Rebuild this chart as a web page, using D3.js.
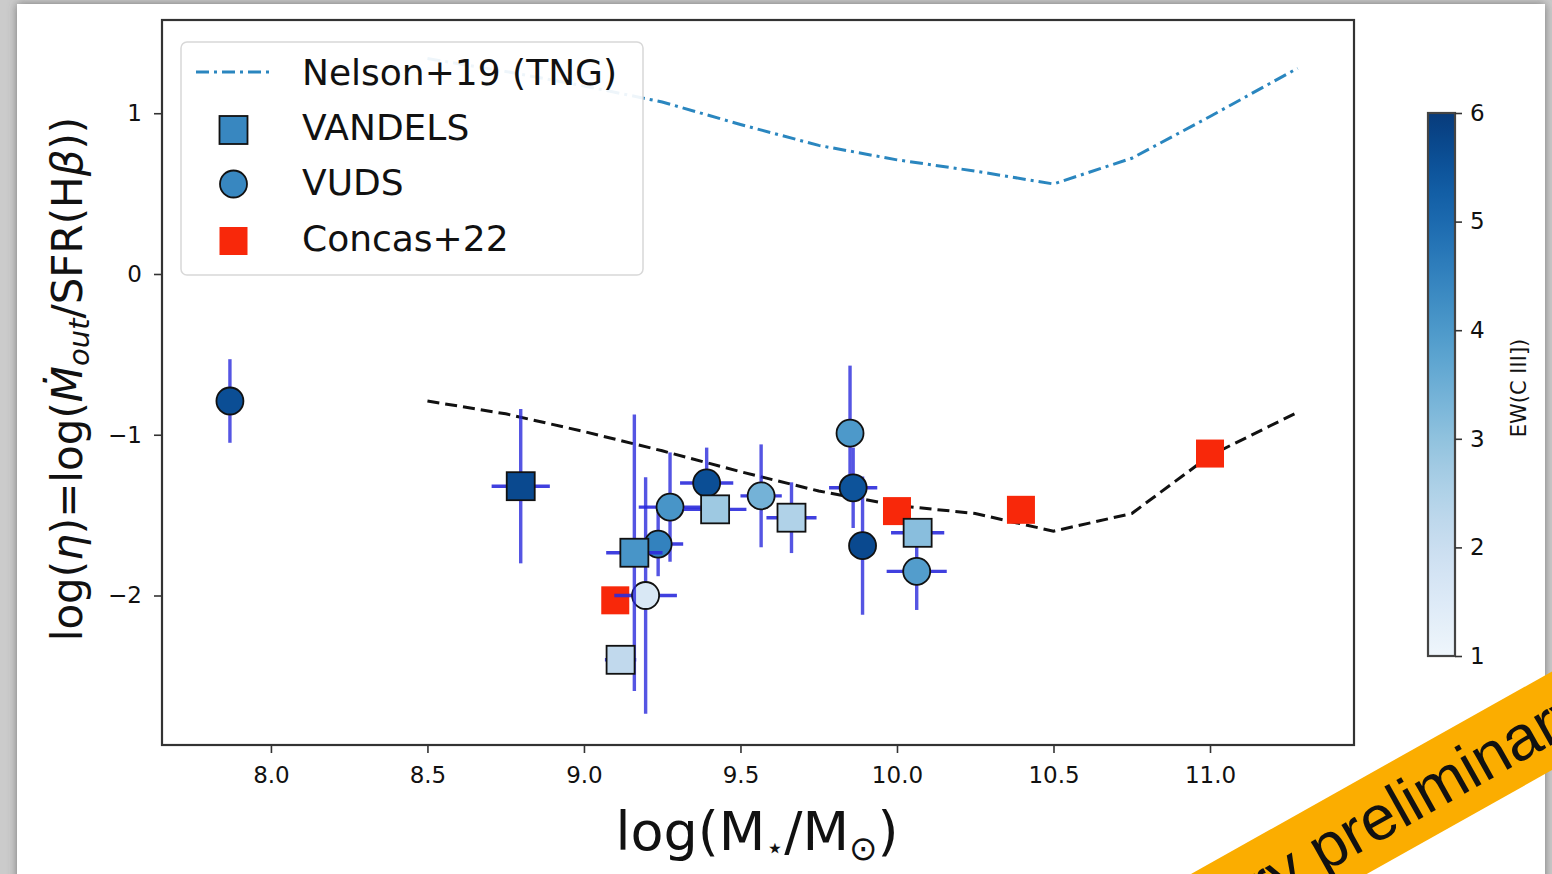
<!DOCTYPE html>
<html>
<head>
<meta charset="utf-8">
<script src="https://cdn.jsdelivr.net/npm/d3@7"></script>
<style>
  html, body { margin: 0; padding: 0; background: #c9c9c9; overflow: hidden; }
  svg { display: block; }
  text { font-family: "DejaVu Sans", sans-serif; fill: #111; }
</style>
</head>
<body>
<svg id="chart" width="1552" height="874"></svg>
<script>
// ---- data ----
// Nelson+19 (TNG) mass-loading relation
const tngMass = [8.5, 8.75, 9.0, 9.25, 9.5, 9.75, 10.0, 10.25, 10.5, 10.75, 11.0, 11.28];
const tngEta  = [1.34, 1.26, 1.17, 1.07, 0.93, 0.80, 0.71, 0.64, 0.56, 0.72, 0.98, 1.28];

// model curve (black dashed)
const modelMass = [8.5, 8.75, 9.0, 9.25, 9.5, 9.75, 10.0, 10.25, 10.5, 10.75, 11.0, 11.28];
const modelEta  = [-0.79, -0.87, -0.98, -1.10, -1.23, -1.35, -1.44, -1.49, -1.60, -1.49, -1.13, -0.86];

// VANDELS (squares)
const vandelsMass    = [8.798, 9.117, 9.161, 9.419, 9.663, 10.066];
const vandelsEta     = [-1.32, -2.40, -1.734, -1.464, -1.516, -1.61];
const vandelsMassErr = [0.093, 0.05, 0.09, 0.10, 0.08, 0.085];
const vandelsEtaErr  = [0.48, 0.02, 0.86, 0.05, 0.22, 0.05];
const vandelsEW      = [5.7, 2.2, 4.1, 2.8, 2.5, 3.1];

// VUDS (circles)
const vudsMass    = [7.869, 9.197, 9.237, 9.275, 9.392, 9.566, 9.850, 9.860, 9.890, 10.063];
const vudsEta     = [-0.79, -2.00, -1.68, -1.45, -1.30, -1.38, -0.99, -1.33, -1.69, -1.85];
const vudsMassErr = [0, 0.10, 0.08, 0.10, 0.085, 0.066, 0, 0.077, 0, 0.096];
const vudsEtaErr  = [0.26, 0.735, 0.20, 0.34, 0.22, 0.32, 0.42, 0.25, 0.43, 0.24];
const vudsEW      = [5.6, 1.6, 4.5, 4.1, 5.6, 3.4, 4.0, 5.5, 5.7, 3.9];

// Concas+22 (red squares)
const concasMass = [9.10, 10.00, 10.396, 11.00];
const concasEta  = [-2.03, -1.475, -1.467, -1.117];

// axis ticks
const xTicks  = [8.0, 8.5, 9.0, 9.5, 10.0, 10.5, 11.0];
const yTicks  = [-2, -1, 0, 1];
const ewTicks = [1, 2, 3, 4, 5, 6];

// legend entries
const legendLabels = ["Nelson+19 (TNG)", "VANDELS", "VUDS", "Concas+22"];

// ---- layout ----
const svg = d3.select("#chart");
const W = 1552, H = 874;
const plot = { left: 162, right: 1354, top: 20, bottom: 745 };

const x = d3.scaleLinear().domain([7.652, 11.46]).range([plot.left, plot.right]);
const y = d3.scaleLinear().domain([-2.93, 1.58]).range([plot.bottom, plot.top]);
const ewScale = d3.scaleLinear().domain([1, 6]).range([656, 113]);
const ewColor = v => d3.interpolateBlues(0.04 + 0.92 * (v - 1) / 5);

// ---- slide card ----
const defs = svg.append("defs");
const shadow = defs.append("filter").attr("id", "cardShadow")
  .attr("x", "-5%").attr("y", "-5%").attr("width", "110%").attr("height", "110%");
shadow.append("feDropShadow").attr("dx", 0).attr("dy", 0)
  .attr("stdDeviation", 5).attr("flood-color", "#555").attr("flood-opacity", 0.7);

svg.append("rect").attr("width", W).attr("height", H).attr("fill", "#cbcbcb");
svg.append("rect").attr("x", 17).attr("y", 4).attr("width", 1528).attr("height", 900)
  .attr("fill", "#fff").attr("filter", "url(#cardShadow)");

// clip for data inside the axes
defs.append("clipPath").attr("id", "plotClip").append("rect")
  .attr("x", plot.left).attr("y", plot.top)
  .attr("width", plot.right - plot.left).attr("height", plot.bottom - plot.top);

// ---- axes ----
const xAxis = d3.axisBottom(x).tickValues(xTicks).tickFormat(d3.format(".1f"))
  .tickSize(8).tickPadding(14);
const gx = svg.append("g").attr("transform", `translate(0,${plot.bottom})`).call(xAxis);
gx.select(".domain").remove();
gx.selectAll(".tick line").attr("stroke", "#333").attr("stroke-width", 1.6);
gx.selectAll(".tick text").attr("font-size", 23).attr("font-family", "DejaVu Sans").attr("fill", "#111");

const yAxis = d3.axisLeft(y).tickValues(yTicks).tickFormat(d3.format("d"))
  .tickSize(8).tickPadding(12);
const gy = svg.append("g").attr("transform", `translate(${plot.left},0)`).call(yAxis);
gy.select(".domain").remove();
gy.selectAll(".tick line").attr("stroke", "#333").attr("stroke-width", 1.6);
gy.selectAll(".tick text").attr("font-size", 23).attr("font-family", "DejaVu Sans").attr("fill", "#111");

// axis labels
const xl = svg.append("text").attr("x", 757).attr("y", 850)
  .attr("text-anchor", "middle").attr("font-size", 54);
xl.append("tspan").text("log(M");
xl.append("tspan").attr("font-size", 30).attr("dy", 8).text("\u22C6");
xl.append("tspan").attr("dy", -8).text("/M");
xl.append("tspan").attr("font-size", 34).attr("dy", 10).text("\u2299");
xl.append("tspan").attr("dy", -10).text(")");

const yl = svg.append("text").attr("transform", "translate(82,379) rotate(-90)")
  .attr("text-anchor", "middle").attr("font-size", 42);
yl.append("tspan").text("log(");
yl.append("tspan").attr("font-style", "italic").text("\u03B7");
yl.append("tspan").text(")=log(");
yl.append("tspan").attr("font-style", "italic").text("\u1E40");
yl.append("tspan").attr("font-style", "italic").attr("font-size", 29).attr("dy", 7).text("out");
yl.append("tspan").attr("dy", -7).text("/SFR(H");
yl.append("tspan").attr("font-style", "italic").text("\u03B2");
yl.append("tspan").text("))");

// ---- plot contents ----
const body = svg.append("g").attr("clip-path", "url(#plotClip)");

const line = d3.line().x(d => x(d[0])).y(d => y(d[1]));

// TNG relation
body.append("path").datum(d3.zip(tngMass, tngEta)).attr("d", line)
  .attr("fill", "none").attr("stroke", "#2a86bf").attr("stroke-width", 3)
  .attr("stroke-dasharray", "13,5,3,5");

// model curve
body.append("path").datum(d3.zip(modelMass, modelEta)).attr("d", line)
  .attr("fill", "none").attr("stroke", "#111").attr("stroke-width", 3)
  .attr("stroke-dasharray", "12,6");

const errColor = "#2b2bdc";
function drawErrors(g, xs, ys, xe, ye) {
  xs.forEach((m, i) => {
    if (xe[i] > 0) {
      g.append("line").attr("x1", x(m - xe[i])).attr("x2", x(m + xe[i]))
        .attr("y1", y(ys[i])).attr("y2", y(ys[i]))
        .attr("stroke", errColor).attr("stroke-width", 3.4).attr("stroke-opacity", 0.9);
    }
    if (ye[i] > 0) {
      g.append("line").attr("x1", x(m)).attr("x2", x(m))
        .attr("y1", y(ys[i] - ye[i])).attr("y2", y(ys[i] + ye[i]))
        .attr("stroke", errColor).attr("stroke-width", 3.4).attr("stroke-opacity", 0.8);
    }
  });
}

const side = 28, rad = 13.5;

// Concas+22
body.append("g").selectAll("rect").data(d3.zip(concasMass, concasEta)).join("rect")
  .attr("x", d => x(d[0]) - side / 2).attr("y", d => y(d[1]) - side / 2)
  .attr("width", side).attr("height", side).attr("fill", "#f8280a");

// VUDS
const gVuds = body.append("g");
drawErrors(gVuds, vudsMass, vudsEta, vudsMassErr, vudsEtaErr);
gVuds.selectAll("circle").data(d3.range(vudsMass.length)).join("circle")
  .attr("cx", i => x(vudsMass[i])).attr("cy", i => y(vudsEta[i])).attr("r", rad)
  .attr("fill", i => ewColor(vudsEW[i])).attr("stroke", "#111").attr("stroke-width", 1.8);

// VANDELS
const gVan = body.append("g");
drawErrors(gVan, vandelsMass, vandelsEta, vandelsMassErr, vandelsEtaErr);
gVan.selectAll("rect").data(d3.range(vandelsMass.length)).join("rect")
  .attr("x", i => x(vandelsMass[i]) - side / 2).attr("y", i => y(vandelsEta[i]) - side / 2)
  .attr("width", side).attr("height", side)
  .attr("fill", i => ewColor(vandelsEW[i])).attr("stroke", "#111").attr("stroke-width", 1.8);

// frame
svg.append("rect").attr("x", plot.left).attr("y", plot.top)
  .attr("width", plot.right - plot.left).attr("height", plot.bottom - plot.top)
  .attr("fill", "none").attr("stroke", "#333").attr("stroke-width", 2.2);

// ---- legend ----
const lg = svg.append("g");
lg.append("rect").attr("x", 181).attr("y", 42).attr("width", 462).attr("height", 233)
  .attr("rx", 6).attr("fill", "#fff").attr("fill-opacity", 0.92)
  .attr("stroke", "#d8d8d8").attr("stroke-width", 1.5);
const rowY = [72, 127, 182, 238];
lg.append("line").attr("x1", 196).attr("x2", 270).attr("y1", rowY[0]).attr("y2", rowY[0])
  .attr("stroke", "#2a86bf").attr("stroke-width", 3).attr("stroke-dasharray", "13,5,3,5");
lg.append("rect").attr("x", 233.5 - side / 2).attr("y", rowY[1] + 3 - side / 2)
  .attr("width", side).attr("height", side).attr("fill", ewColor(4.4))
  .attr("stroke", "#111").attr("stroke-width", 1.8);
lg.append("circle").attr("cx", 233.5).attr("cy", rowY[2] + 2).attr("r", rad)
  .attr("fill", ewColor(4.4)).attr("stroke", "#111").attr("stroke-width", 1.8);
lg.append("rect").attr("x", 233.5 - side / 2).attr("y", rowY[3] + 3 - side / 2)
  .attr("width", side).attr("height", side).attr("fill", "#f8280a");
lg.selectAll("text.lab").data(legendLabels).join("text").attr("class", "lab")
  .attr("x", 302).attr("y", (d, i) => rowY[i] + 13).attr("font-size", 36).text(d => d);

// ---- colorbar ----
const cb = svg.append("g");
const grad = defs.append("linearGradient").attr("id", "ewGrad")
  .attr("x1", 0).attr("x2", 0).attr("y1", 1).attr("y2", 0);
d3.range(0, 1.0001, 0.05).forEach(t => {
  grad.append("stop").attr("offset", t).attr("stop-color", ewColor(1 + 5 * t));
});
cb.append("rect").attr("x", 1428).attr("y", ewScale(6)).attr("width", 27)
  .attr("height", ewScale(1) - ewScale(6)).attr("fill", "url(#ewGrad)")
  .attr("stroke", "#444").attr("stroke-width", 2.2);
const cbAxis = d3.axisRight(ewScale).tickValues(ewTicks).tickFormat(d3.format("d"))
  .tickSize(7).tickPadding(8);
const gcb = cb.append("g").attr("transform", "translate(1455,0)").call(cbAxis);
gcb.select(".domain").remove();
gcb.selectAll(".tick line").attr("stroke", "#333").attr("stroke-width", 1.6);
gcb.selectAll(".tick text").attr("font-size", 23).attr("font-family", "DejaVu Sans").attr("fill", "#111");
cb.append("text").attr("transform", "translate(1526,388) rotate(-90)")
  .attr("text-anchor", "middle").attr("font-size", 21).text("EW(C III])");

// ---- watermark ----
const wm = svg.append("g").attr("transform", "translate(1188,925) rotate(-29.3)");
wm.append("rect").attr("x", -300).attr("y", -43).attr("width", 1100).attr("height", 86)
  .attr("fill", "#fbad00");
wm.append("text").attr("x", 0).attr("y", 21)
  .attr("font-size", 63).attr("fill", "#000").style("font-family", "Liberation Sans")
  .text("Very preliminary");
</script>
</body>
</html>
